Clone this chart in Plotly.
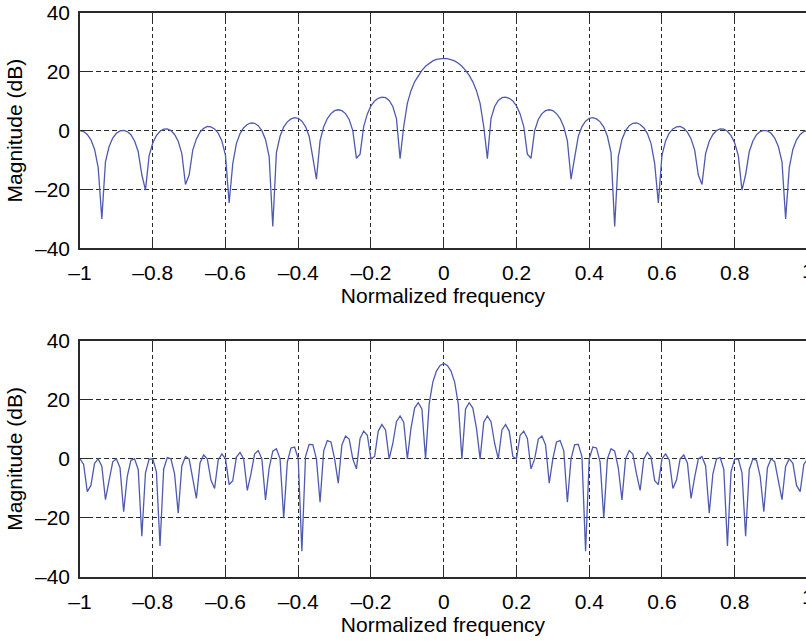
import plotly.graph_objects as go

# Normalized frequency grid (x = 1 corresponds to Nyquist)
freq = [
    -1.00, -0.99, -0.98, -0.97, -0.96, -0.95, -0.94, -0.93, -0.92, -0.91,
    -0.90, -0.89, -0.88, -0.87, -0.86, -0.85, -0.84, -0.83, -0.82, -0.81,
    -0.80, -0.79, -0.78, -0.77, -0.76, -0.75, -0.74, -0.73, -0.72, -0.71,
    -0.70, -0.69, -0.68, -0.67, -0.66, -0.65, -0.64, -0.63, -0.62, -0.61,
    -0.60, -0.59, -0.58, -0.57, -0.56, -0.55, -0.54, -0.53, -0.52, -0.51,
    -0.50, -0.49, -0.48, -0.47, -0.46, -0.45, -0.44, -0.43, -0.42, -0.41,
    -0.40, -0.39, -0.38, -0.37, -0.36, -0.35, -0.34, -0.33, -0.32, -0.31,
    -0.30, -0.29, -0.28, -0.27, -0.26, -0.25, -0.24, -0.23, -0.22, -0.21,
    -0.20, -0.19, -0.18, -0.17, -0.16, -0.15, -0.14, -0.13, -0.12, -0.11,
    -0.10, -0.09, -0.08, -0.07, -0.06, -0.05, -0.04, -0.03, -0.02, -0.01,
    0.00,
    0.01, 0.02, 0.03, 0.04, 0.05, 0.06, 0.07, 0.08, 0.09, 0.10,
    0.11, 0.12, 0.13, 0.14, 0.15, 0.16, 0.17, 0.18, 0.19, 0.20,
    0.21, 0.22, 0.23, 0.24, 0.25, 0.26, 0.27, 0.28, 0.29, 0.30,
    0.31, 0.32, 0.33, 0.34, 0.35, 0.36, 0.37, 0.38, 0.39, 0.40,
    0.41, 0.42, 0.43, 0.44, 0.45, 0.46, 0.47, 0.48, 0.49, 0.50,
    0.51, 0.52, 0.53, 0.54, 0.55, 0.56, 0.57, 0.58, 0.59, 0.60,
    0.61, 0.62, 0.63, 0.64, 0.65, 0.66, 0.67, 0.68, 0.69, 0.70,
    0.71, 0.72, 0.73, 0.74, 0.75, 0.76, 0.77, 0.78, 0.79, 0.80,
    0.81, 0.82, 0.83, 0.84, 0.85, 0.86, 0.87, 0.88, 0.89, 0.90,
    0.91, 0.92, 0.93, 0.94, 0.95, 0.96, 0.97, 0.98, 0.99, 1.00,
]

# Magnitude (dB) of the short window response (upper panel)
mag_upper = [
    0.0, -0.3, -1.3, -3.1, -6.3, -12.6, -30.0, -10.6, -5.4, -2.5,
    -0.9, -0.1, 0.1, -0.3, -1.4, -3.5, -7.1, -15.0, -20.2, -8.6,
    -4.2, -1.7, -0.2, 0.5, 0.6, 0.0, -1.3, -3.6, -7.8, -18.3,
    -15.1, -6.6, -2.8, -0.5, 0.8, 1.4, 1.3, 0.6, -0.8, -3.5,
    -8.4, -24.6, -11.2, -4.4, -1.0, 1.0, 2.1, 2.6, 2.5, 1.7,
    0.0, -3.0, -8.8, -32.6, -7.5, -1.9, 1.2, 3.0, 4.0, 4.4,
    4.2, 3.2, 1.4, -1.9, -9.1, -16.5, -3.5, 1.3, 4.1, 5.8,
    6.8, 7.1, 6.8, 5.8, 3.8, 0.0, -9.4, -8.0, 1.4, 5.7,
    8.4, 10.1, 11.0, 11.4, 11.2, 10.3, 8.2, 4.1, -9.5, 1.4,
    9.3, 13.6, 16.6, 18.8, 20.5, 21.9, 22.9, 23.7, 24.2, 24.5,
    24.6,
    24.5, 24.2, 23.7, 22.9, 21.9, 20.5, 18.8, 16.6, 13.6, 9.3,
    1.4, -9.5, 4.1, 8.2, 10.3, 11.2, 11.4, 11.0, 10.1, 8.4,
    5.7, 1.4, -8.0, -9.4, 0.0, 3.8, 5.8, 6.8, 7.1, 6.8,
    5.8, 4.1, 1.3, -3.5, -16.5, -9.1, -1.9, 1.4, 3.2, 4.2,
    4.4, 4.0, 3.0, 1.2, -1.9, -7.5, -32.6, -8.8, -3.0, 0.0,
    1.7, 2.5, 2.6, 2.1, 1.0, -1.0, -4.4, -11.2, -24.6, -8.4,
    -3.5, -0.8, 0.6, 1.3, 1.4, 0.8, -0.5, -2.8, -6.6, -15.1,
    -18.3, -7.8, -3.6, -1.3, 0.0, 0.6, 0.5, -0.2, -1.7, -4.2,
    -8.6, -20.2, -15.0, -7.1, -3.5, -1.4, -0.3, 0.1, -0.1, -0.9,
    -2.5, -5.4, -10.6, -30.0, -12.6, -6.3, -3.1, -1.3, -0.3, 0.0,
]

# Magnitude (dB) of the longer window response (lower panel)
mag_lower = [
    0.0, -1.9, -11.1, -9.0, -1.5, 0.0, -2.5, -13.8, -7.3, -1.0,
    0.0, -3.0, -17.9, -5.9, -0.5, 0.0, -3.6, -26.2, -4.7, -0.1,
    0.0, -4.3, -29.5, -3.5, 0.4, 0.0, -5.1, -18.4, -2.4, 0.8,
    0.0, -6.1, -13.4, -1.4, 1.3, 0.0, -7.2, -10.0, -0.4, 1.7,
    0.0, -8.7, -7.4, 0.6, 2.2, 0.0, -10.7, -5.1, 1.6, 2.8,
    0.0, -13.9, -3.1, 2.6, 3.4, 0.0, -20.1, -1.1, 3.7, 4.0,
    0.0, -31.3, 0.8, 4.9, 4.8, 0.0, -14.7, 2.7, 6.2, 5.7,
    0.0, -8.2, 4.7, 7.7, 6.7, 0.0, -3.4, 6.9, 9.4, 8.0,
    0.0, 0.8, 9.4, 11.6, 9.8, 0.0, 5.2, 12.6, 14.5, 12.4,
    0.0, 10.4, 17.2, 19.0, 16.9, 0.0, 18.6, 26.0, 29.7, 31.6,
    32.3,
    31.6, 29.7, 26.0, 18.6, 0.0, 16.9, 19.0, 17.2, 10.4, 0.0,
    12.4, 14.5, 12.6, 5.2, 0.0, 9.8, 11.6, 9.4, 0.8, 0.0,
    8.0, 9.4, 6.9, -3.4, 0.0, 6.7, 7.7, 4.7, -8.2, 0.0,
    5.7, 6.2, 2.7, -14.7, 0.0, 4.8, 4.9, 0.8, -31.3, 0.0,
    4.0, 3.7, -1.1, -20.1, 0.0, 3.4, 2.6, -3.1, -13.9, 0.0,
    2.8, 1.6, -5.1, -10.7, 0.0, 2.2, 0.6, -7.4, -8.7, 0.0,
    1.7, -0.4, -10.0, -7.2, 0.0, 1.3, -1.4, -13.4, -6.1, 0.0,
    0.8, -2.4, -18.4, -5.1, 0.0, 0.4, -3.5, -29.5, -4.3, 0.0,
    -0.1, -4.7, -26.2, -3.6, 0.0, -0.5, -5.9, -17.9, -3.0, 0.0,
    -1.0, -7.3, -13.8, -2.5, 0.0, -1.5, -9.0, -11.1, -1.9, 0.0,
]

x_ticks = [-1, -0.8, -0.6, -0.4, -0.2, 0, 0.2, 0.4, 0.6, 0.8, 1]
x_tick_text = ["\u20131", "\u20130.8", "\u20130.6", "\u20130.4", "\u20130.2", "0",
               "0.2", "0.4", "0.6", "0.8", "1"]
y_ticks = [-40, -20, 0, 20, 40]
y_tick_text = ["\u201340", "\u201320", "0", "20", "40"]

FONT = "Liberation Sans, Arial, Helvetica, sans-serif"
FONT_SIZE = 21
LINE_COLOR = "#4f5aae"
AXIS_COLOR = "#2a2a2a"
W, H = 806, 643
M_L, M_R, M_T, M_B = 80, 0, 13, 66
plot_w = W - M_L - M_R
plot_h = H - M_T - M_B


def py_to_paper(py):
    return (H - M_B - py) / plot_h


fig = go.Figure()
fig.add_trace(go.Scatter(x=freq, y=mag_upper, mode="lines", xaxis="x", yaxis="y",
                         line=dict(color=LINE_COLOR, width=1.3), showlegend=False))
fig.add_trace(go.Scatter(x=freq, y=mag_lower, mode="lines", xaxis="x2", yaxis="y2",
                         line=dict(color=LINE_COLOR, width=1.3), showlegend=False))

x_common = dict(
    range=[-1, 0.996], tickmode="array", tickvals=x_ticks, ticktext=x_tick_text,
    ticks="inside", ticklen=8, tickwidth=1.3, tickcolor=AXIS_COLOR,
    showline=True, linecolor=AXIS_COLOR, linewidth=1.5, mirror="ticks",
    showgrid=True, gridcolor=AXIS_COLOR, gridwidth=1.3, griddash="4px,3px",
    zeroline=False, tickfont=dict(family=FONT, size=FONT_SIZE, color="black"),
    ticklabelstandoff=5,
    title=dict(text="Normalized frequency",
               font=dict(family=FONT, size=FONT_SIZE, color="black"), standoff=4),
)
y_common = dict(
    range=[-40, 40], tickmode="array", tickvals=y_ticks, ticktext=y_tick_text,
    ticks="inside", ticklen=8, tickwidth=1.3, tickcolor=AXIS_COLOR,
    showline=True, linecolor=AXIS_COLOR, linewidth=1.5, mirror=False,
    showgrid=True, gridcolor=AXIS_COLOR, gridwidth=1.3, griddash="5px,3px",
    zeroline=False, tickfont=dict(family=FONT, size=FONT_SIZE, color="black"),
    ticklabelstandoff=4,
    title=dict(text="Magnitude (dB)",
               font=dict(family=FONT, size=FONT_SIZE, color="black"), standoff=7),
)

fig.update_layout(
    width=W, height=H,
    margin=dict(l=M_L, r=M_R, t=M_T, b=M_B, pad=0),
    paper_bgcolor="white", plot_bgcolor="white",
    xaxis=dict(domain=[0, 1], anchor="y", **x_common),
    yaxis=dict(domain=[py_to_paper(248.3), 1], anchor="x", **y_common),
    xaxis2=dict(domain=[0, 1], anchor="y2", **x_common),
    yaxis2=dict(domain=[0, py_to_paper(340.7)], anchor="x2", **y_common),
)

# The "1" tick label sits right at the window edge, beyond the clipped range
x_one = (807.5 - M_L) / plot_w
for py in (270.5, 596.0):
    fig.add_annotation(text="1", xref="paper", yref="paper", x=x_one, y=py_to_paper(py),
                       xanchor="center", yanchor="middle", showarrow=False,
                       font=dict(family=FONT, size=FONT_SIZE, color="black"))

fig.write_html("out.html")
